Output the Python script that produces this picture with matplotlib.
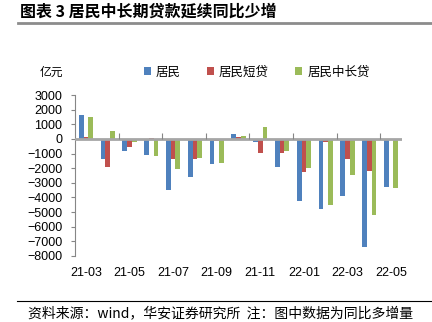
import matplotlib
matplotlib.use('Agg')
import matplotlib.pyplot as plt
import numpy as np
from matplotlib.lines import Line2D

plt.rcParams['font.family'] = ['Liberation Sans', 'Noto Sans CJK SC', 'DejaVu Sans']

months = ['21-03', '21-04', '21-05', '21-06', '21-07', '21-08', '21-09', '21-10',
          '21-11', '21-12', '22-01', '22-02', '22-03', '22-04', '22-05']
household = [1640, -1370, -800, -1110, -3480, -2620, -1710, 320,
             -180, -1890, -4240, -4760, -3890, -7400, -3300]
short_loan = [100, -1890, -570, 80, -1390, -1340, -160, 160,
              -960, -960, -2230, -180, -1390, -2190, -30]
long_loan = [1520, 550, -230, -1180, -2050, -1300, -1660, 180,
             800, -800, -2000, -4530, -2480, -5190, -3370]
series_names = ['居民', '居民短贷', '居民中长贷']
colors = ['#4F81BD', '#C0504D', '#9BBB59']

fig = plt.figure(figsize=(4.32, 3.22), dpi=100)
ax = fig.add_axes([75 / 432, 1 - 256 / 322, 327 / 432, 161 / 322])

x = np.arange(len(months))
w = 0.22
for i, (vals, name) in enumerate(zip([household, short_loan, long_loan], series_names)):
    ax.bar(x + (i - 1) * w, vals, width=w, color=colors[i], label=name,
           edgecolor='none', zorder=2)

ax.set_xlim(-0.5, len(months) - 0.5)
ax.set_ylim(-8000, 3000)
ax.set_yticks(np.arange(-8000, 3001, 1000))
ax.tick_params(axis='y', direction='out', length=3, color='#868686', pad=6, labelsize=9)
ax.set_xticks(x[::2])
ax.set_xticklabels(months[::2])
ax.tick_params(axis='x', length=0, pad=8, labelsize=9)

for s in ['top', 'right', 'bottom']:
    ax.spines[s].set_visible(False)
ax.spines['left'].set_color('#868686')

# zero line with category tick marks
ax.axhline(0, color='#A6A6A6', lw=2, zorder=3)
ax.vlines(np.arange(1.5, len(months) - 0.5, 2), 0, 380, color='#868686', lw=0.8, zorder=3)

fig.text(20 / 432, 1 - 12 / 322, '图表 3 居民中长期贷款延续同比少增', fontsize=11.5,
         fontweight='bold', family=['Noto Sans CJK SC'], va='center', ha='left')
fig.add_artist(Line2D([18 / 432, 1], [1 - 23 / 322] * 2, color='#8C8C8C', lw=2))

fig.text(40 / 432, 1 - 72 / 322, '亿元', fontsize=8.5, family=['Noto Sans CJK SC'],
         va='center', ha='left')
fig.legend(loc='center left', bbox_to_anchor=(144 / 432, 1 - 72 / 322), ncol=3,
           frameon=False, handlelength=0.55, handleheight=0.55, handletextpad=0.4,
           columnspacing=2.1, borderaxespad=0, borderpad=0,
           prop={'family': 'Noto Sans CJK SC', 'size': 9})

fig.add_artist(Line2D([17 / 432, 1], [1 - 300.5 / 322] * 2, color='black', lw=0.8))
fig.text(28 / 432, 1 - 313 / 322, '资料来源：wind，华安证券研究所  注：图中数据为同比多增量',
         fontsize=10, family=['Noto Sans CJK SC'], va='center', ha='left')

fig.savefig('out.png', dpi=100)
